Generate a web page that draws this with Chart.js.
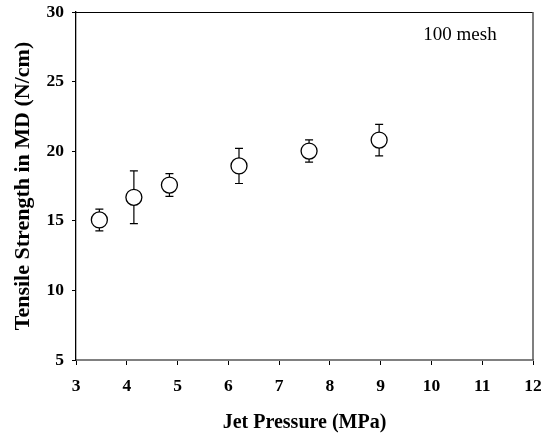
<!DOCTYPE html>
<html>
<head>
<meta charset="utf-8">
<script src="https://cdn.jsdelivr.net/npm/chart.js@4"></script>
<style>
  body { margin: 0; background: #fff; }
</style>
</head>
<body>
<canvas id="myChart" width="548" height="436"></canvas>
<script>
// Values
const pressure = [3.46, 4.14, 4.84, 6.21, 7.59, 8.97];
const strength = [15.06, 16.69, 17.57, 18.94, 20.01, 20.8];
const errBar = [0.78, 1.9, 0.82, 1.26, 0.8, 1.13];
const xTicks = [3, 4, 5, 6, 7, 8, 9, 10, 11, 12];
const yTicks = [5, 10, 15, 20, 25, 30];
const noteText = '100 mesh';

const serif = '"Liberation Serif", "Times New Roman", serif';

// Error bars drawn behind the circles, placed with the chart's own scales
const errorBars = {
  id: 'errorBars',
  beforeDatasetsDraw(chart) {
    const ctx = chart.ctx;
    const xs = chart.scales.x;
    const ys = chart.scales.y;
    ctx.save();
    ctx.strokeStyle = '#000';
    ctx.lineWidth = 1.2;
    pressure.forEach((p, i) => {
      const x = xs.getPixelForValue(p);
      const yTop = ys.getPixelForValue(strength[i] + errBar[i]);
      const yBot = ys.getPixelForValue(strength[i] - errBar[i]);
      ctx.beginPath();
      ctx.moveTo(x, yTop);
      ctx.lineTo(x, yBot);
      ctx.moveTo(x - 4, yTop);
      ctx.lineTo(x + 4, yTop);
      ctx.moveTo(x - 4, yBot);
      ctx.lineTo(x + 4, yBot);
      ctx.stroke();
    });
    ctx.restore();
  }
};

// Top and right frame lines plus the note text
const frame = {
  id: 'frame',
  afterDraw(chart) {
    const ctx = chart.ctx;
    const a = chart.chartArea;
    ctx.save();
    ctx.strokeStyle = '#000';
    ctx.lineWidth = 1;
    ctx.beginPath();
    ctx.moveTo(a.left, a.top + 0.5);
    ctx.lineTo(a.right, a.top + 0.5);
    ctx.stroke();
    ctx.strokeStyle = '#555';
    ctx.lineWidth = 1.5;
    ctx.beginPath();
    ctx.moveTo(a.right, a.top);
    ctx.lineTo(a.right, a.bottom);
    ctx.stroke();
    ctx.fillStyle = '#000';
    ctx.font = '19px ' + serif;
    ctx.textAlign = 'center';
    ctx.textBaseline = 'middle';
    ctx.fillText(noteText, a.right - 73, a.top + 23);
    ctx.restore();
  }
};

const ctx = document.getElementById('myChart').getContext('2d');
const chart = new Chart(ctx, {
  type: 'scatter',
  data: {
    datasets: [{
      data: pressure.map((p, i) => ({ x: p, y: strength[i] })),
      pointStyle: 'circle',
      pointRadius: 8,
      pointHoverRadius: 8,
      backgroundColor: '#fff',
      borderColor: '#000',
      borderWidth: 1.3
    }]
  },
  options: {
    responsive: false,
    animation: false,
    devicePixelRatio: 1,
    layout: { padding: { left: 0, right: 15, top: 12, bottom: 0 } },
    plugins: {
      legend: { display: false },
      tooltip: { enabled: false }
    },
    scales: {
      x: {
        type: 'linear',
        min: 3,
        max: 12,
        afterBuildTicks: s => { s.ticks = xTicks.map(v => ({ value: v })); },
        afterFit: s => { s.height = 76; s.paddingLeft = 0; s.paddingRight = 0; },
        border: { display: true, color: '#808080', width: 2 },
        grid: { drawOnChartArea: false, tickLength: 5, color: '#000', tickColor: '#000' },
        ticks: { color: '#000', padding: 11, font: { family: serif, size: 17.5, weight: 'bold' } },
        title: {
          display: true,
          text: 'Jet Pressure (MPa)',
          color: '#000',
          padding: { top: 0, bottom: 1 },
          font: { family: serif, size: 20, weight: 'bold' }
        }
      },
      y: {
        type: 'linear',
        min: 5,
        max: 30,
        afterBuildTicks: s => { s.ticks = yTicks.map(v => ({ value: v })); },
        afterFit: s => { s.width = 76; s.paddingTop = 0; s.paddingBottom = 0; },
        border: { display: true, color: '#000', width: 1.3 },
        grid: { drawOnChartArea: false, tickLength: 4, color: '#000', tickColor: '#000' },
        ticks: { color: '#000', padding: 8, font: { family: serif, size: 17.5, weight: 'bold' } },
        title: {
          display: true,
          text: 'Tensile Strength in MD (N/cm)',
          color: '#000',
          padding: { top: 10, bottom: 0 },
          font: { family: serif, size: 22, weight: 'bold' }
        }
      }
    }
  },
  plugins: [errorBars, frame]
});
</script>
</body>
</html>
